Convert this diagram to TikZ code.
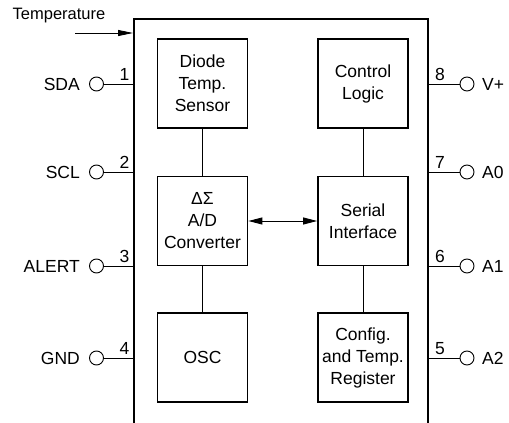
\documentclass[tikz,border=0pt]{standalone}
\usepackage{fontspec}
\setmainfont{Liberation Sans}
\usetikzlibrary{arrows.meta}
\begin{document}
\begin{tikzpicture}[x=1pt,y=-1pt,
  txt/.style={font=\fontsize{17.5}{22}\selectfont, inner sep=0pt},
  blk/.style={draw, line width=1.8pt, minimum width=90pt, minimum height=89pt, align=center, inner sep=0pt, font=\fontsize{17.5}{22}\selectfont},
  pin/.style={draw, circle, line width=0.9pt, minimum size=14pt, inner sep=0pt},
  wire/.style={line width=0.9pt},
  num/.style={font=\fontsize{17.5}{18}\selectfont, inner sep=0pt}]
\useasboundingbox (0,0) rectangle (509,423);
% chip outline
\draw[line width=1.8pt] (134,423) -- (134,19) -- (428,19) -- (428,423);
% blocks
\node[blk] (diode) at (202.5,83.5) {Diode\\Temp.\\Sensor};
\node[blk] (ctrl) at (363,83.5) {Control\\Logic};
\node[blk] (adc) at (202.5,221) {ΔΣ\\A/D\\Converter};
\node[blk] (ser) at (363,221) {Serial\\Interface};
\node[blk] (osc) at (202.5,357.5) {OSC};
\node[blk] (cfg) at (363,357.5) {Config.\\and Temp.\\Register};
\draw[wire] (diode) -- (adc);
\draw[wire] (adc) -- (osc);
\draw[wire] (ctrl) -- (ser);
\draw[wire] (ser) -- (cfg);
\draw[wire, {Triangle[length=14pt,width=7pt]}-{Triangle[length=14pt,width=7pt]}] (adc) -- (ser);
% temperature
\node[font=\fontsize{16.5}{20}\selectfont, inner sep=0pt] (temp) at (59,16) {Temperature};
\coordinate (tin) at (75,33);
\coordinate (tend) at (133,33);
\draw[wire, -{Triangle[length=15pt,width=6pt]}] (tin) -- (tend);
% left pins
\foreach \n/\y/\lab in {1/84/SDA, 2/172/SCL, 3/266/ALERT, 4/358/GND}{
  \node[pin] (p\n) at (96.5,\y) {};
  \coordinate (e\n) at (134,\y);
  \draw[wire] (p\n) -- (e\n);
  \node[txt, anchor=east] (l\n) at (80,\y) {\lab};
  \node[num, anchor=south east] (n\n) at (129.5,\y-3) {\n};
}
% right pins
\foreach \n/\y/\lab in {8/84/V+, 7/172/A0, 6/266/A1, 5/358/A2}{
  \node[pin] (p\n) at (467,\y) {};
  \coordinate (e\n) at (428,\y);
  \draw[wire] (p\n) -- (e\n);
  \node[txt, anchor=west] (l\n) at (482,\y) {\lab};
  \node[num, anchor=south west] (n\n) at (435,\y-3) {\n};
}
\end{tikzpicture}
\end{document}
